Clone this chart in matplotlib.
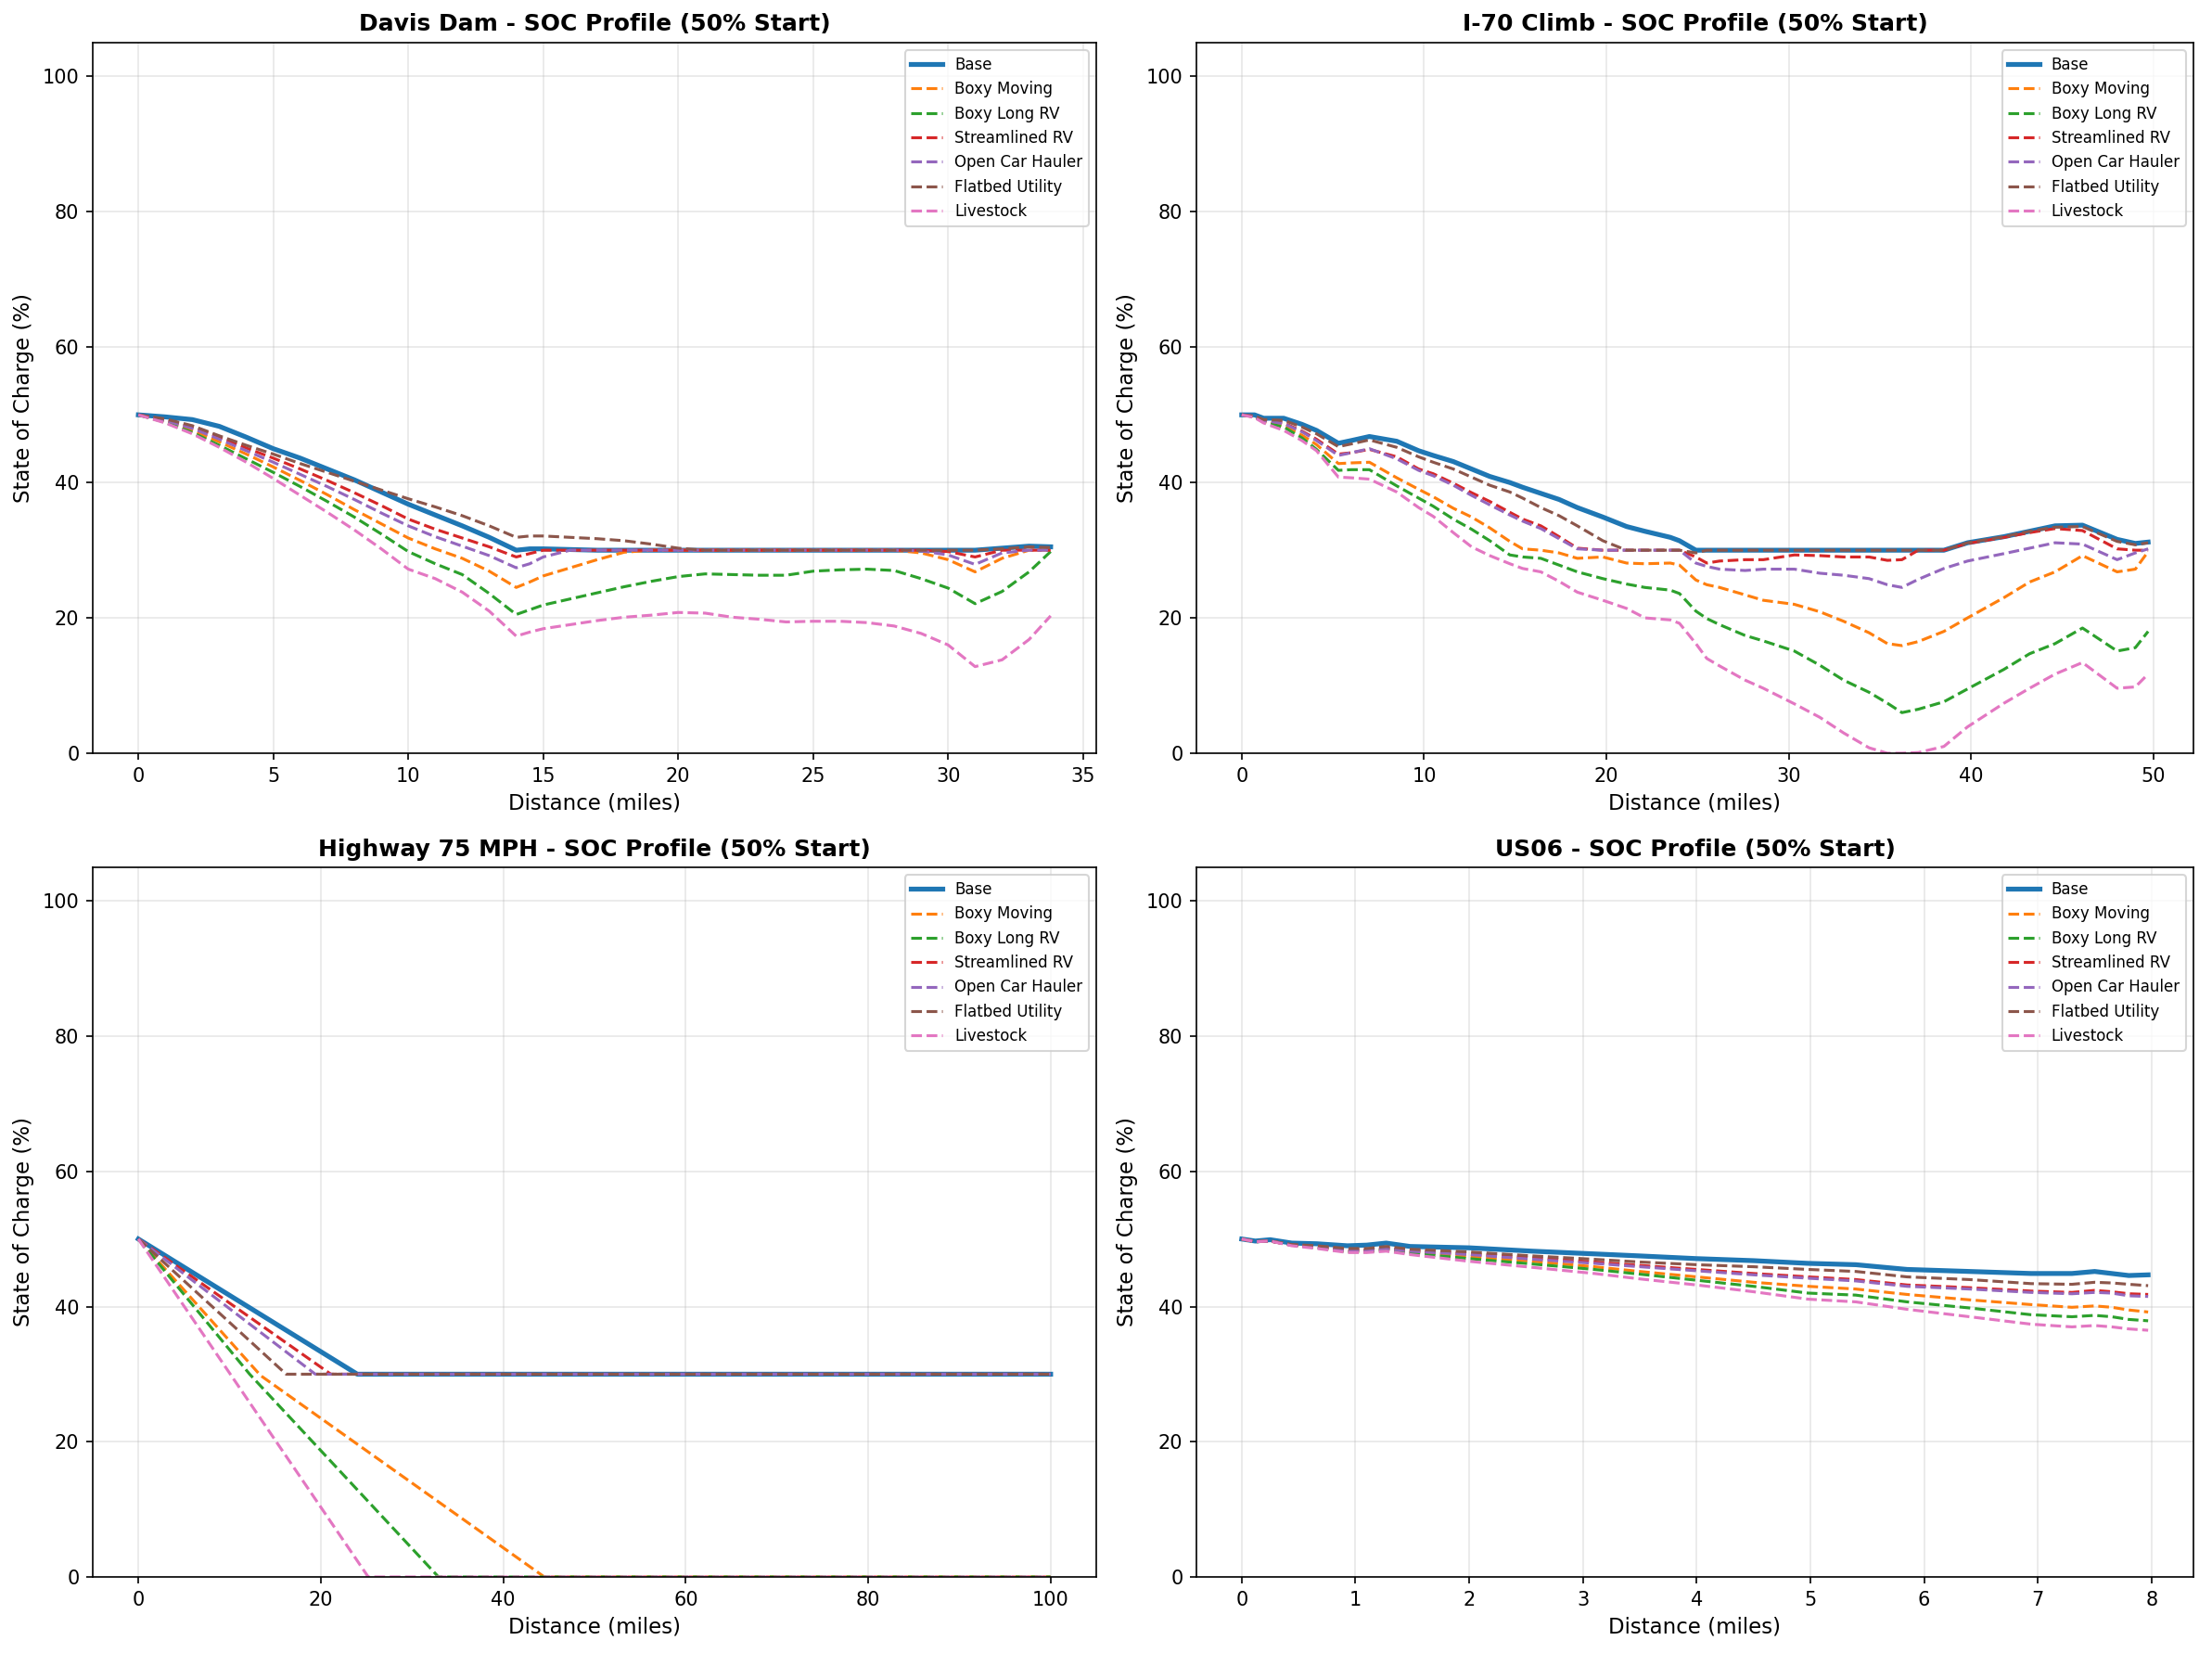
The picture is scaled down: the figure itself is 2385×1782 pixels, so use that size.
import matplotlib
matplotlib.use("Agg")
import matplotlib.pyplot as plt

series_names = ["Base", "Boxy Moving", "Boxy Long RV", "Streamlined RV",
                "Open Car Hauler", "Flatbed Utility", "Livestock"]
colors = ["#1f77b4", "#ff7f0e", "#2ca02c", "#d62728", "#9467bd", "#8c564b", "#e377c2"]

# ---------------- Davis Dam ----------------
davis_x = [0, 1, 2, 3, 4, 5, 6, 7, 8, 9, 10, 11, 12, 13, 14, 14.5, 15, 16, 17, 18,
           19, 20, 21, 22, 23, 24, 25, 26, 27, 28, 29, 30, 31, 32, 33, 33.8]
davis_base = [50, 49.7, 49.3, 48.3, 46.7, 45.0, 43.6, 42.0, 40.4, 38.6, 36.8, 35.2, 33.6, 31.9, 30.0,
              30.2, 30.2, 30.1, 30.0, 30.0, 30.0, 30.0, 30.0, 30.0, 30.0, 30.0, 30.0, 30.0, 30.0,
              30.0, 30.0, 30.0, 30.0, 30.3, 30.6, 30.5]
davis_boxy_moving = [50, 49.0, 47.7, 46.0, 44.2, 42.3, 40.3, 38.2, 36.0, 33.9, 31.8, 30.2, 28.8, 26.9, 24.5,
                     25.3, 26.2, 27.4, 28.6, 29.7, 30.0, 30.0, 30.0, 30.0, 30.0, 30.0, 30.0, 30.0, 30.0,
                     30.0, 29.6, 28.6, 26.8, 28.8, 30.0, 30.0]
davis_boxy_long_rv = [50, 48.9, 47.4, 45.5, 43.5, 41.5, 39.4, 37.2, 34.9, 32.4, 29.8, 28.0, 26.4, 23.6, 20.5,
                      21.2, 21.9, 22.8, 23.7, 24.6, 25.4, 26.1, 26.5, 26.4, 26.3, 26.3, 26.9, 27.1, 27.2,
                      27.0, 25.8, 24.4, 22.1, 23.9, 26.8, 29.8]
davis_streamlined_rv = [50, 49.3, 48.2, 46.7, 45.1, 43.6, 42.0, 40.3, 38.5, 36.6, 34.6, 33.1, 31.8, 30.5, 29.0,
                        29.5, 30.0, 30.0, 30.0, 30.0, 30.0, 30.0, 30.0, 30.0, 30.0, 30.0, 30.0, 30.0, 30.0,
                        30.0, 30.0, 29.8, 29.0, 30.0, 30.0, 30.0]
davis_open_car_hauler = [50, 49.2, 48.0, 46.4, 44.7, 43.0, 41.2, 39.4, 37.5, 35.5, 33.6, 32.0, 30.6, 29.2, 27.4,
                         28.0, 29.0, 30.0, 30.0, 30.0, 30.0, 30.0, 30.0, 30.0, 30.0, 30.0, 30.0, 30.0, 30.0,
                         30.0, 29.9, 29.3, 27.9, 29.6, 30.0, 30.0]
davis_flatbed = [50, 49.4, 48.4, 46.9, 45.5, 44.2, 42.8, 41.5, 40.2, 38.9, 37.6, 36.4, 35.1, 33.6, 31.9,
                 32.1, 32.1, 31.9, 31.7, 31.4, 30.9, 30.3, 30.0, 30.0, 30.0, 30.0, 30.0, 30.0, 30.0,
                 30.0, 30.0, 30.0, 30.0, 30.2, 30.5, 30.4]
davis_livestock = [50, 48.8, 47.2, 45.2, 43.0, 40.6, 38.1, 35.6, 33.0, 30.2, 27.2, 25.8, 23.8, 21.0, 17.3,
                   17.9, 18.4, 19.0, 19.6, 20.1, 20.4, 20.8, 20.7, 20.1, 19.8, 19.4, 19.5, 19.5, 19.3,
                   18.8, 17.7, 16.0, 12.8, 13.8, 16.8, 20.3]

# ---------------- I-70 Climb ----------------
i70_x = [0, 0.7, 1.2, 2.3, 3.3, 4.1, 5.3, 6.0, 7.0, 8.5, 9.7, 10.5, 11.6, 12.6, 13.6, 14.7, 15.4,
         16.4, 17.4, 18.4, 19.8, 21.1, 22.1, 23.5, 24.0, 24.9, 25.5, 26.2, 27.6, 28.6, 30.3, 31.7,
         33.0, 34.4, 35.4, 36.2, 37.1, 38.5, 39.8, 41.8, 43.2, 44.6, 46.1, 48.0, 49.0, 49.7]
i70_base = [50.0, 50.0, 49.5, 49.5, 48.6, 47.7, 45.8, 46.2, 46.8, 46.1, 44.7, 44.0, 43.1, 42.0, 40.9,
            40.0, 39.3, 38.4, 37.5, 36.3, 34.9, 33.5, 32.8, 31.9, 31.4, 30.0, 30.0, 30.0, 30.0, 30.0,
            30.0, 30.0, 30.0, 30.0, 30.0, 30.0, 30.0, 30.0, 31.1, 32.0, 32.8, 33.6, 33.7, 31.6, 31.0, 31.2]
i70_boxy_moving = [50, 49.7, 49.0, 48.4, 47.0, 45.6, 42.8, 42.9, 43.0, 40.7, 39.0, 37.9, 36.2, 34.9, 33.3,
                   31.3, 30.2, 30.0, 29.6, 28.8, 29.0, 28.1, 28.0, 28.1, 27.8, 25.6, 24.9, 24.5, 23.4,
                   22.6, 22.0, 20.9, 19.5, 17.8, 16.2, 15.9, 16.5, 18.0, 20.0, 23.0, 25.3, 26.8, 29.2,
                   26.8, 27.2, 29.8]
i70_boxy_long_rv = [50, 49.7, 48.9, 48.2, 46.6, 44.9, 41.8, 41.9, 41.9, 39.5, 37.7, 36.5, 34.6, 33.1, 31.4,
                    29.3, 29.0, 28.8, 27.8, 26.8, 25.8, 25.0, 24.5, 24.1, 23.6, 21.0, 19.9, 19.0, 17.4,
                    16.6, 15.1, 13.0, 10.8, 9.0, 7.4, 6.0, 6.5, 7.6, 9.5, 12.4, 14.7, 16.2, 18.5,
                    15.1, 15.6, 18.0]
i70_streamlined_rv = [50, 49.8, 49.2, 48.8, 47.6, 46.4, 44.2, 44.4, 44.9, 43.8, 42.0, 41.3, 39.9, 38.5, 37.2,
                      35.6, 34.6, 33.6, 32.0, 30.3, 30.0, 30.0, 30.0, 30.0, 30.0, 29.0, 28.1, 28.4, 28.6,
                      28.6, 29.3, 29.2, 29.0, 29.0, 28.5, 28.6, 30.0, 30.0, 31.0, 31.9, 32.6, 33.2, 32.9,
                      30.2, 30.0, 30.0]
i70_open_car_hauler = [50, 49.8, 49.2, 48.7, 47.5, 46.2, 44.0, 44.4, 45.0, 43.5, 41.8, 41.0, 39.6, 38.1, 36.7,
                       35.2, 34.3, 33.2, 31.7, 30.2, 30.0, 30.0, 30.0, 30.0, 30.0, 28.1, 27.6, 27.2, 27.0,
                       27.2, 27.2, 26.6, 26.3, 25.8, 24.9, 24.5, 25.7, 27.3, 28.4, 29.5, 30.3, 31.1, 30.9,
                       28.6, 29.6, 30.2]
i70_flatbed = [50, 49.8, 49.3, 49.2, 48.2, 47.2, 45.3, 45.7, 46.3, 45.2, 43.8, 43.0, 42.0, 40.8, 39.6,
               38.6, 37.7, 36.3, 35.1, 33.6, 31.4, 30.0, 30.0, 30.0, 30.0, 29.6, 30.0, 30.0, 30.0,
               30.0, 30.0, 30.0, 30.0, 30.0, 30.0, 30.0, 30.0, 30.0, 31.1, 32.0, 32.8, 33.4, 33.5,
               31.3, 30.8, 31.1]
i70_livestock = [50, 49.6, 48.8, 47.7, 46.2, 44.7, 40.8, 40.7, 40.5, 38.6, 36.3, 35.0, 32.6, 30.5, 29.2,
                 28.0, 27.3, 26.8, 25.4, 23.8, 22.6, 21.4, 20.0, 19.7, 19.2, 16.2, 14.0, 12.9, 10.8,
                 9.6, 7.3, 5.3, 3.0, 0.8, 0.0, 0.0, 0.1, 1.0, 3.9, 7.4, 9.6, 11.7, 13.4,
                 9.6, 9.8, 11.7]

# ---------------- Highway 75 MPH (breakpoints per series) ----------------
hwy_base_x = [0, 24.0, 100]
hwy_base = [50, 30, 30]
hwy_boxy_moving_x = [0, 13.4, 44.5, 100]
hwy_boxy_moving = [50, 29.8, 0, 0]
hwy_boxy_long_rv_x = [0, 12.2, 32.9, 100]
hwy_boxy_long_rv = [50, 30, 0, 0]
hwy_streamlined_rv_x = [0, 21.1, 100]
hwy_streamlined_rv = [50, 30, 30]
hwy_open_car_hauler_x = [0, 19.4, 100]
hwy_open_car_hauler = [50, 30, 30]
hwy_flatbed_x = [0, 16.2, 100]
hwy_flatbed = [50, 30, 30]
hwy_livestock_x = [0, 25.2, 100]
hwy_livestock = [50, 0, 0]

# ---------------- US06 ----------------
us06_x = [0, 0.12, 0.25, 0.44, 0.66, 0.93, 1.1, 1.27, 1.48, 2.0, 2.56, 3.1, 3.5, 4.0, 4.5, 4.98,
          5.4, 5.85, 6.4, 6.94, 7.3, 7.5, 7.65, 7.8, 7.97]
us06_base = [50.0, 49.7, 49.9, 49.4, 49.3, 49.0, 49.1, 49.4, 48.9, 48.7, 48.2, 47.8, 47.5, 47.1, 46.8,
             46.4, 46.2, 45.5, 45.2, 44.9, 44.9, 45.2, 44.9, 44.6, 44.7]
us06_boxy_moving = [50, 49.6, 49.7, 49.1, 48.8, 48.2, 48.2, 48.5, 48.1, 47.4, 46.7, 45.9, 45.2, 44.4, 43.6,
                    43.0, 42.6, 41.8, 41.0, 40.3, 39.9, 40.1, 39.9, 39.5, 39.2]
us06_boxy_long_rv = [50, 49.6, 49.7, 49.1, 48.7, 48.1, 48.1, 48.4, 47.9, 47.1, 46.3, 45.5, 44.8, 43.9, 43.0,
                     42.0, 41.7, 40.7, 39.8, 38.8, 38.5, 38.7, 38.5, 38.1, 37.9]
us06_streamlined_rv = [50, 49.6, 49.7, 49.1, 48.9, 48.4, 48.4, 48.7, 48.3, 47.8, 47.2, 46.6, 46.1, 45.5, 44.9,
                       44.4, 44.0, 43.2, 42.8, 42.3, 42.1, 42.4, 42.2, 41.9, 41.8]
us06_open_car_hauler = [50, 49.6, 49.7, 49.1, 48.8, 48.3, 48.3, 48.6, 48.2, 47.7, 47.0, 46.4, 45.9, 45.3, 44.7,
                        44.2, 43.8, 43.0, 42.6, 42.1, 41.9, 42.1, 42.0, 41.6, 41.5]
us06_flatbed = [50, 49.6, 49.7, 49.2, 49.0, 48.6, 48.6, 48.9, 48.5, 48.1, 47.5, 47.0, 46.6, 46.2, 45.9,
                45.5, 45.2, 44.4, 44.0, 43.4, 43.3, 43.6, 43.5, 43.3, 43.1]
us06_livestock = [50, 49.6, 49.7, 49.0, 48.6, 48.0, 48.0, 48.2, 47.7, 46.7, 45.8, 44.9, 44.1, 43.2, 42.2,
                  41.1, 40.7, 39.6, 38.5, 37.4, 37.0, 37.2, 37.0, 36.7, 36.5]

panels = [
    ("Davis Dam - SOC Profile (50% Start)",
     [(davis_x, davis_base), (davis_x, davis_boxy_moving), (davis_x, davis_boxy_long_rv),
      (davis_x, davis_streamlined_rv), (davis_x, davis_open_car_hauler), (davis_x, davis_flatbed),
      (davis_x, davis_livestock)]),
    ("I-70 Climb - SOC Profile (50% Start)",
     [(i70_x, i70_base), (i70_x, i70_boxy_moving), (i70_x, i70_boxy_long_rv),
      (i70_x, i70_streamlined_rv), (i70_x, i70_open_car_hauler), (i70_x, i70_flatbed),
      (i70_x, i70_livestock)]),
    ("Highway 75 MPH - SOC Profile (50% Start)",
     [(hwy_base_x, hwy_base), (hwy_boxy_moving_x, hwy_boxy_moving), (hwy_boxy_long_rv_x, hwy_boxy_long_rv),
      (hwy_streamlined_rv_x, hwy_streamlined_rv), (hwy_open_car_hauler_x, hwy_open_car_hauler),
      (hwy_flatbed_x, hwy_flatbed), (hwy_livestock_x, hwy_livestock)]),
    ("US06 - SOC Profile (50% Start)",
     [(us06_x, us06_base), (us06_x, us06_boxy_moving), (us06_x, us06_boxy_long_rv),
      (us06_x, us06_streamlined_rv), (us06_x, us06_open_car_hauler), (us06_x, us06_flatbed),
      (us06_x, us06_livestock)]),
]

W, H = 2385, 1782
fig = plt.figure(figsize=(W / 150, H / 150), dpi=150)
# axes boxes in pixels: (left, top, right, bottom)
boxes = [(100, 46, 1182, 812), (1290, 46, 2365, 812),
         (100, 935, 1182, 1700), (1290, 935, 2365, 1700)]

for (title, data), (l, t, r, b) in zip(panels, boxes):
    ax = fig.add_axes([l / W, 1 - b / H, (r - l) / W, (b - t) / H])
    for i, ((xs, ys), name, c) in enumerate(zip(data, series_names, colors)):
        if i == 0:
            ax.plot(xs, ys, color=c, linewidth=2.5, linestyle='-', label=name)
        else:
            ax.plot(xs, ys, color=c, linewidth=1.5, linestyle='--', label=name)
    ax.set_ylim(0, 105)
    ax.set_title(title, fontsize=12, fontweight='bold')
    ax.set_xlabel("Distance (miles)", fontsize=11)
    ax.set_ylabel("State of Charge (%)", fontsize=11)
    ax.grid(True, alpha=0.3)
    ax.legend(loc='upper right', fontsize=8)

fig.savefig("out.png", dpi=150)
